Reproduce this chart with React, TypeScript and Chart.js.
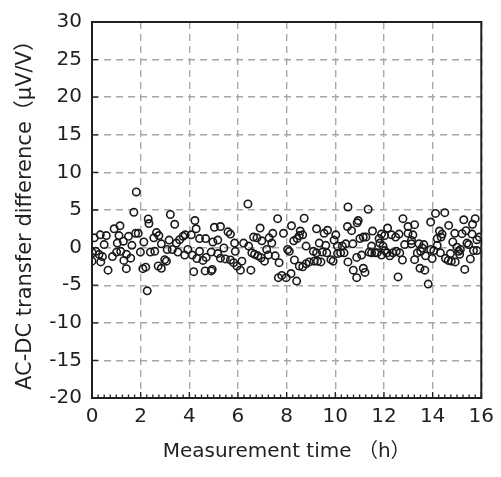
import React, { useEffect, useRef } from "react";
import { Chart, registerables } from "chart.js";

Chart.register(...registerables);

const X_TITLE = "Measurement time （h）";
const Y_TITLE = "AC-DC transfer difference（μV/V）";
const X_TICKS = [0, 2, 4, 6, 8, 10, 12, 14, 16];
const Y_TICKS = [-20, -15, -10, -5, 0, 5, 10, 15, 20, 25, 30];

// measurement time (h)
const timeH = [
  1.82, 1.72, 2.31, 2.34, 0.91, 1.15, 0.34, 0.59, 0.09, 1.11, 1.5, 1.79, 1.9, 0.5, 1.04, 1.29, 1.64, 2.13, 2.54,
  0.02, 0.16, 0.29, 0.43, 0.0, 0.36, 0.84, 1.01, 1.18, 1.31, 1.42, 1.59, 1.99, 2.4, 0.66, 1.41, 2.09, 2.21, 2.27,
  3.22, 3.4, 4.23, 4.28, 5.03, 2.65, 2.75, 2.85, 3.17, 3.47, 3.6, 3.74, 3.83, 4.08, 4.42, 4.67, 4.97, 5.17,
  2.58, 3.09, 3.3, 3.53, 3.81, 3.94, 4.12, 4.31, 4.42, 4.56, 4.69, 4.9, 5.17, 2.72, 2.85, 2.99, 3.06, 4.18, 4.65, 4.9, 4.94,
  6.41, 7.63, 6.91, 5.28, 5.59, 5.69, 5.86, 6.23, 6.44, 6.64, 6.78, 6.98, 7.28, 7.43, 7.39, 7.87,
  5.42, 5.28, 5.48, 5.69, 5.89, 5.82, 5.96, 6.1, 6.16, 6.57, 6.68, 6.82, 6.95, 7.09, 7.18, 7.25, 7.53, 7.69, 6.53, 7.66, 7.8,
  8.72, 10.52, 8.2, 8.56, 9.23, 9.54, 9.68, 10.02, 10.5, 8.29, 8.43, 8.52, 8.66, 8.8, 9.34, 9.61, 9.95, 10.09, 10.29, 10.43,
  8.04, 8.11, 8.32, 8.52, 8.66, 8.8, 8.93, 9.1, 9.23, 9.13, 9.27, 9.41, 9.47, 9.65, 9.82, 9.91, 10.09, 10.22, 10.36, 10.52,
  7.98, 8.18, 8.41,
  11.35, 12.78, 10.94, 10.9, 10.67, 11.53, 12.15, 12.99, 13.26, 11.9, 12.03, 12.31, 12.48, 12.62, 12.99, 13.19,
  11.01, 11.15, 11.26, 10.72, 11.8, 11.83, 13.13, 13.13, 12.85, 11.49, 11.96, 11.63, 11.39, 11.49, 11.72, 11.9, 12.03,
  12.13, 12.24, 12.37, 12.51, 12.65, 12.76, 13.26, 10.88, 11.08, 10.74, 10.88, 11.15, 11.22, 12.58,
  14.12, 14.5, 13.92, 14.66, 15.28, 15.75, 15.64, 14.28, 14.39, 14.91, 15.21, 15.37, 15.62, 14.19, 14.35, 14.83, 15.82, 15.92,
  13.44, 13.64, 13.57, 13.92, 14.05, 14.19, 14.32, 14.73, 15.0, 15.41, 15.48, 15.07, 15.14, 13.37, 13.51, 13.71, 13.98,
  14.53, 14.64, 14.77, 14.93, 15.11, 15.55, 15.68, 15.82, 13.48, 13.68, 15.32, 13.82,
];

// AC-DC transfer difference (μV/V)
const diffUV = [
  7.4, 4.7, 3.8, 3.2, 2.5, 2.9, 1.7, 1.6, 1.3, 1.6, 1.5, 1.9, 1.9, 0.4, 0.6, 0.85, 0.3, 0.75, 1.3,
  -0.7, -0.5, -0.9, -1.2, -1.8, -1.9, -1.2, -0.6, -0.5, -1.7, -0.9, -1.4, -0.6, -0.6, -3.0, -2.8, -2.8, -2.6, -5.75,
  4.4, 3.1, 3.6, 2.5, 2.7, 2.0, 1.6, 0.5, 1.0, 0.6, 1.05, 1.5, 1.7, 1.7, 1.2, 1.2, 0.75, 1.0,
  -0.5, -0.25, -0.25, -0.6, -1.0, -0.25, -1.0, -1.45, -0.5, -1.7, -1.3, -0.6, -0.8, -2.45, -2.75, -1.6, -1.8, -3.2, -3.1, -3.1, -2.9,
  5.8, 3.85, 2.6, 2.8, 2.1, 1.8, 0.6, 0.6, 0.2, 1.4, 1.3, 0.9, 1.3, 1.9, 0.6, 1.9,
  -0.05, -1.4, -1.5, -1.65, -0.5, -2.0, -2.45, -3.0, -1.8, -0.7, -0.9, -1.1, -1.35, -1.8, -0.25, -1.0, -1.1, -2.0, -3.0, -4.0, -3.7,
  3.9, 5.4, 2.9, 2.2, 2.5, 1.9, 2.3, 1.7, 2.8, 0.9, 1.2, 1.6, 1.7, 0.2, 0.6, 0.3, 1.0, 0.2, 0.2, 0.5,
  -0.25, -0.5, -1.65, -2.45, -2.55, -2.15, -1.9, -0.5, -0.7, -1.8, -1.8, -1.9, -0.6, -0.7, -1.6, -1.8, -0.8, -0.7, -0.7, -1.9,
  -4.0, -3.45, -4.45,
  5.1, 3.85, 3.6, 3.3, 2.25, 2.2, 2.6, 2.8, 3.05, 1.8, 1.6, 1.7, 1.4, 1.8, 1.9, 1.7,
  1.2, 1.4, 1.4, 0.5, 1.2, 0.6, 0.95, 0.5, 0.4, 0.2, 0.2, -0.7, -0.6, -0.7, -0.7, -1.0, -0.4,
  -0.7, -1.1, -0.7, -0.5, -0.7, -1.65, -1.6, -1.3, -1.0, -3.0, -4.0, -2.75, -3.3, -3.9,
  4.55, 4.65, 3.4, 2.95, 3.7, 3.85, 3.1, 2.2, 1.8, 1.9, 1.85, 2.25, 1.8, 1.2, 1.4, 0.75, 1.05, 1.4,
  0.5, 0.4, -0.05, -0.25, -0.4, 0.3, -0.7, -0.8, 0.05, 0.6, 0.4, -0.5, -0.25, -0.7, -0.5, -1.1, -1.45,
  -1.45, -1.7, -1.8, -1.9, -0.9, -1.5, -0.4, -0.4, -2.75, -3.0, -2.9, -4.85,
];

const FONT = '"DejaVu Sans", "Noto Sans CJK JP", sans-serif';
const TEXT_COLOR = "#231f20";

const framePlugin = {
  id: "frameAndTicks",
  afterDatasetsDraw(chart: any) {
    const { ctx, chartArea, scales } = chart;
    const { left, right, top, bottom } = chartArea;
    const xs = scales.x;
    const ys = scales.y;
    ctx.save();
    ctx.strokeStyle = "#231f20";
    ctx.lineWidth = 1.3;
    ctx.beginPath();
    for (let i = 0; i <= 64; i++) {
      const v = i * 0.25;
      const px = xs.getPixelForValue(v);
      const len = i % 8 === 0 ? 6 : 3.5;
      ctx.moveTo(px, bottom);
      ctx.lineTo(px, bottom - len);
    }
    Y_TICKS.forEach((v) => {
      const py = ys.getPixelForValue(v);
      ctx.moveTo(left, py);
      ctx.lineTo(left + 6, py);
    });
    ctx.stroke();
    ctx.lineWidth = 2;
    ctx.strokeRect(left, top, right - left, bottom - top);
    ctx.restore();
  },
};

export default function App() {
  const ref = useRef<HTMLCanvasElement | null>(null);
  useEffect(() => {
    document.body.style.margin = "0";
    const data = timeH.map((t, i) => ({ x: t, y: diffUV[i] }));
    const chart = new Chart(ref.current as HTMLCanvasElement, {
      type: "scatter",
      data: {
        datasets: [
          {
            data,
            pointRadius: 3.7,
            pointBorderWidth: 1.6,
            borderColor: "#1a1a1a",
            backgroundColor: "rgba(0,0,0,0)",
            pointHoverRadius: 3.7,
          },
        ],
      },
      options: {
        responsive: false,
        animation: false,
        devicePixelRatio: 1,
        layout: { padding: { top: 19, right: 17, left: 0, bottom: 0 } },
        plugins: { legend: { display: false }, tooltip: { enabled: false } },
        scales: {
          x: {
            type: "linear",
            min: 0,
            max: 16,
            afterFit: (s: any) => {
              s.height = 79;
            },
            afterBuildTicks: (s: any) => {
              s.ticks = X_TICKS.map((v) => ({ value: v }));
            },
            ticks: { font: { family: FONT, size: 20 }, color: TEXT_COLOR, padding: 7 },
            grid: { color: "#a8a8a8", lineWidth: 1.4, drawTicks: false },
            border: { display: false, dash: [7, 5] },
            title: {
              display: true,
              text: X_TITLE,
              font: { family: FONT, size: 20 },
              color: TEXT_COLOR,
              padding: { top: 0, bottom: 13 },
            },
          },
          y: {
            type: "linear",
            min: -20,
            max: 30,
            afterFit: (s: any) => {
              s.width = 92;
            },
            afterBuildTicks: (s: any) => {
              s.ticks = Y_TICKS.map((v) => ({ value: v }));
            },
            ticks: { font: { family: FONT, size: 20 }, color: TEXT_COLOR, padding: 10 },
            grid: { color: "#a8a8a8", lineWidth: 1.4, drawTicks: false },
            border: { display: false, dash: [7, 5] },
            title: {
              display: true,
              text: Y_TITLE,
              font: { family: FONT, size: 21 },
              color: TEXT_COLOR,
              padding: { top: 13, bottom: 0 },
            },
          },
        },
      },
      plugins: [framePlugin],
    } as any);
    return () => chart.destroy();
  }, []);
  return <canvas ref={ref} width={501} height={477} style={{ display: "block" }} />;
}
